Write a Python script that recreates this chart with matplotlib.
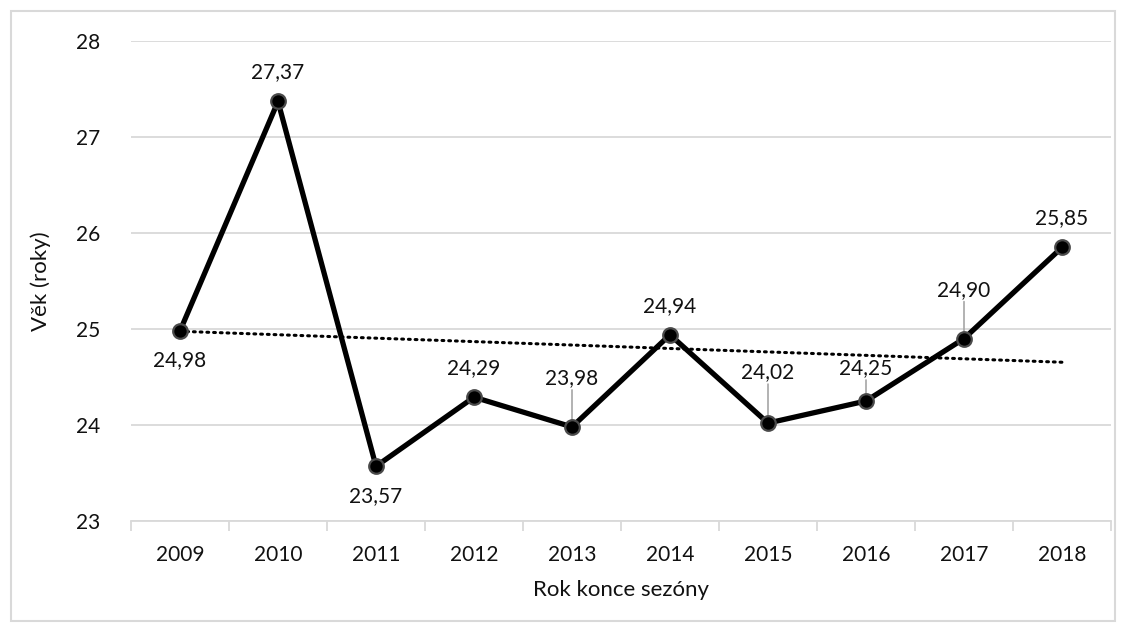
import numpy as np
import matplotlib
matplotlib.use("Agg")
import matplotlib.pyplot as plt
from matplotlib.patches import Rectangle

years = ["2009", "2010", "2011", "2012", "2013", "2014", "2015", "2016", "2017", "2018"]
ages = [24.98, 27.37, 23.57, 24.29, 23.98, 24.94, 24.02, 24.25, 24.90, 25.85]
y_ticks = [23, 24, 25, 26, 27, 28]

# label placement: offset in pixels (negative = above) and whether a leader line is drawn
label_offsets = [29, -29, 30, -29, -49, -29, -51, -33, -49, -29]
leaders = [False, False, False, False, True, False, True, True, True, False]

plt.rcParams["font.family"] = ["Lato", "DejaVu Sans"]
W, H, DPI = 1126, 632, 100
fig = plt.figure(figsize=(W / DPI, H / DPI), dpi=DPI)
fig.patch.set_facecolor("white")
fig.patches.append(Rectangle((11 / W, 11 / H), (W - 22) / W, (H - 22) / H,
                             transform=fig.transFigure, fill=False,
                             edgecolor="#d9d9d9", linewidth=1.5))

ax = fig.add_axes([131 / W, 1 - 521 / H, (1111 - 131) / W, (521 - 41) / H])
x = np.arange(len(years))
ax.set_xlim(-0.5, len(years) - 0.5)
ax.set_ylim(23, 28)
ax.set_yticks(y_ticks)
ax.set_yticklabels([str(t) for t in y_ticks])
ax.grid(axis="y", color="#d9d9d9", linewidth=1.3)
ax.set_axisbelow(True)
for s in ["top", "right", "left"]:
    ax.spines[s].set_visible(False)
ax.spines["bottom"].set_color("#d9d9d9")
ax.spines["bottom"].set_linewidth(1.3)
ax.tick_params(axis="y", length=0, pad=22, labelsize=15, labelcolor="#111111")
ax.set_xticks(x)
ax.set_xticklabels(years)
ax.tick_params(axis="x", which="major", length=0, pad=17, labelsize=15, labelcolor="#111111")
ax.set_xticks(np.arange(-0.5, len(years)), minor=True)
ax.tick_params(axis="x", which="minor", length=7, color="#d9d9d9", width=1.3, direction="out")

# linear trend
coef = np.polyfit(x, ages, 1)
ax.plot(x, np.polyval(coef, x), color="black", linestyle=(0, (0.6, 1.6)),
        linewidth=2.2, dash_capstyle="round", zorder=2)

ax.plot(x, ages, color="black", linewidth=3.8, marker="o", markersize=10.5,
        markerfacecolor="black", markeredgecolor="#4a4a4a", markeredgewidth=1.6,
        solid_joinstyle="miter", zorder=3)

for xi, v, off, lead in zip(x, ages, label_offsets, leaders):
    lab = f"{v:.2f}".replace(".", ",")
    ax.annotate(lab, (xi, v), xytext=(0, -off * 0.72), textcoords="offset points",
                ha="center", va="center", fontsize=15, color="#111111", zorder=4)
    if lead:
        ax.annotate("", (xi, v), xytext=(0, (-off - 12) * 0.72), textcoords="offset points",
                    arrowprops=dict(arrowstyle="-", color="#a6a6a6", linewidth=1.2,
                                    shrinkA=0, shrinkB=4), zorder=2.5)

ax.set_xlabel("Rok konce sezóny", fontsize=16, color="#111111", labelpad=11)
ax.set_ylabel("Věk (roky)", fontsize=16, color="#111111", labelpad=18)

fig.savefig("out.png", dpi=DPI, facecolor="white")
